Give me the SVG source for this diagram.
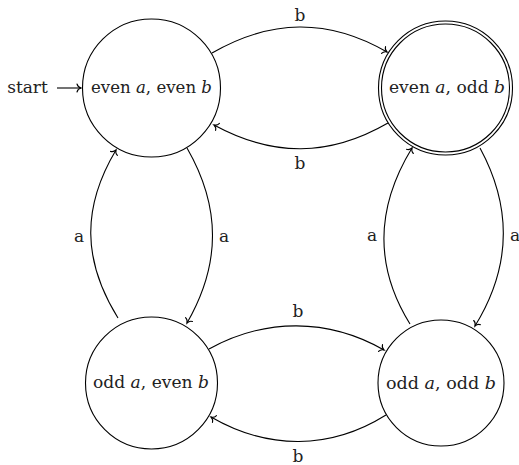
<svg xmlns="http://www.w3.org/2000/svg" width="519" height="465" viewBox="0 0 519 465">
<style>
.st{fill:#fff;stroke:#000;stroke-width:1.1}
.t{font-family:"DejaVu Serif",serif;font-size:17px;fill:#222;text-anchor:middle}
.i{font-style:italic}
.e{fill:none;stroke:#000;stroke-width:1.1;marker-end:url(#to)}
</style>
<defs>
<marker id="to" markerUnits="userSpaceOnUse" markerWidth="12" markerHeight="12" viewBox="-6 -6 12 12" refX="0" refY="0" orient="auto" overflow="visible">
<path d="M-4,-4 C-3.4,-1.6 -1.4,-0.4 0,0 C-1.4,0.4 -3.4,1.6 -4,4" fill="none" stroke="#000" stroke-width="1.1" stroke-linecap="round"/>
</marker>
</defs>
<g id="connectors">
<path class="e" d="M57,88 L81,88"/>
<path class="e" d="M212,53 C271,19 328,18 387,52"/>
<path class="e" d="M388,123 C329,157 273,157 214,125"/>
<path class="e" d="M187,148 C221,207 221,264 187,323"/>
<path class="e" d="M118,318 C82,260 82,207 116,150"/>
<path class="e" d="M480,148 C512,207 512,266 475,326"/>
<path class="e" d="M410,324 C374,266 376,207 412,148"/>
<path class="e" d="M209,349 C265,318 328,318 384,350"/>
<path class="e" d="M386,415 C330,450 268,450 211,417"/>
</g>
<g id="labels">
<text class="t" x="27.5" y="93">start</text>
<text class="t" x="300" y="21">b</text>
<text class="t" x="300" y="169">b</text>
<text class="t" x="79" y="242">a</text>
<text class="t" x="224" y="242">a</text>
<text class="t" x="372" y="241">a</text>
<text class="t" x="515" y="241">a</text>
<text class="t" x="298" y="317">b</text>
<text class="t" x="298" y="462">b</text>
</g>
<g id="s-ee">
<circle class="st" cx="151.5" cy="88" r="69"/>
<text class="t" x="151.5" y="93" textLength="121" lengthAdjust="spacingAndGlyphs">even <tspan class="i">a</tspan>, even <tspan class="i">b</tspan></text>
</g>
<g id="s-eo">
<circle class="st" cx="445.5" cy="88" r="67"/>
<circle class="st" cx="445.5" cy="88" r="64" fill="none"/>
<text class="t" x="447" y="93" textLength="116" lengthAdjust="spacingAndGlyphs">even <tspan class="i">a</tspan>, odd <tspan class="i">b</tspan></text>
</g>
<g id="s-oe">
<circle class="st" cx="151.5" cy="383" r="66"/>
<text class="t" x="151" y="388" textLength="116" lengthAdjust="spacingAndGlyphs">odd <tspan class="i">a</tspan>, even <tspan class="i">b</tspan></text>
</g>
<g id="s-oo">
<circle class="st" cx="441" cy="383" r="63"/>
<text class="t" x="441" y="389" textLength="110" lengthAdjust="spacingAndGlyphs">odd <tspan class="i">a</tspan>, odd <tspan class="i">b</tspan></text>
</g>
</svg>
